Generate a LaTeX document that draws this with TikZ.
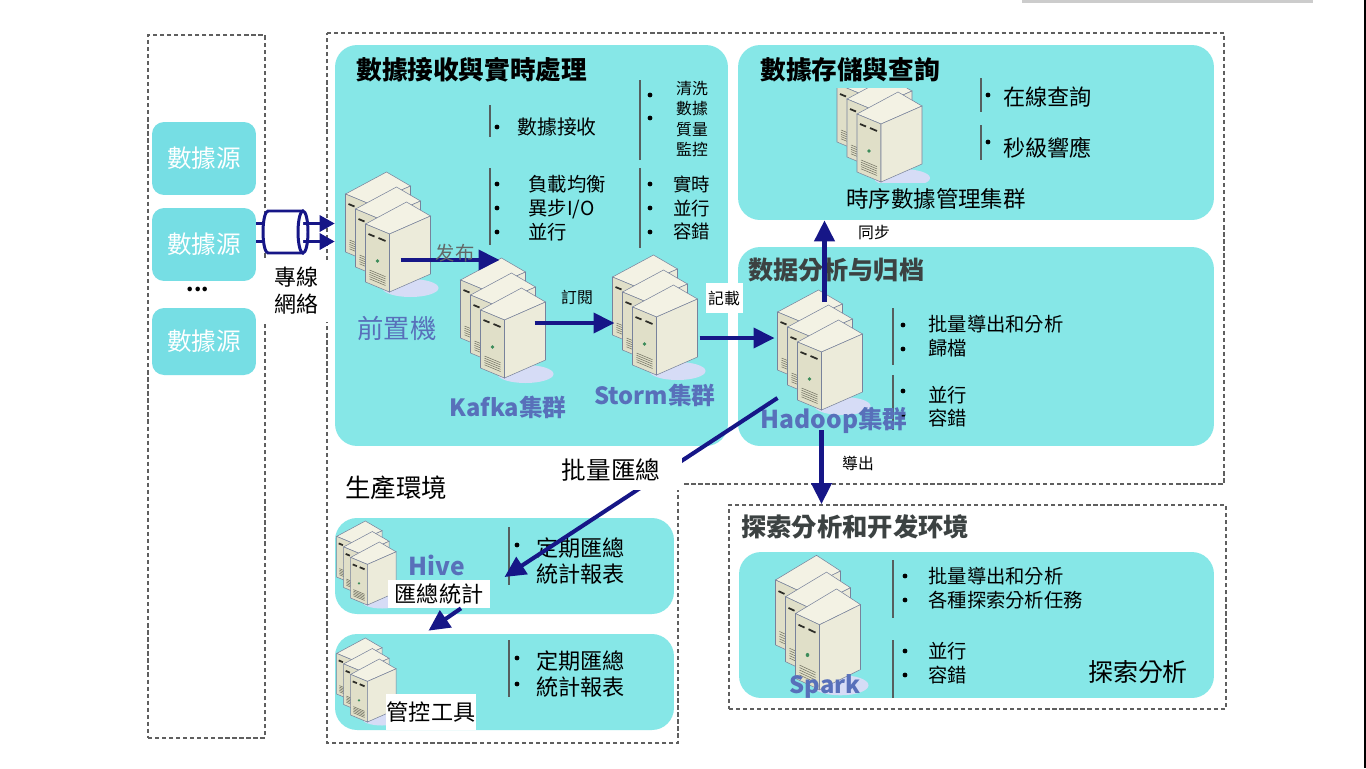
\documentclass[tikz,border=0pt]{standalone}
\usepackage{fontspec}
\setmainfont{Noto Sans CJK TC}
\usetikzlibrary{arrows.meta,calc}

\newcommand\fsz[2]{\fontsize{#1}{#2}\selectfont}

\definecolor{panelcyan}{RGB}{134,231,231}
\definecolor{srccyan}{RGB}{118,222,228}
\definecolor{framegray}{RGB}{95,95,95}
\definecolor{arrownavy}{RGB}{22,22,135}
\definecolor{sepgray}{RGB}{85,95,95}
\definecolor{lblblue}{RGB}{88,112,186}
\definecolor{titlegray}{RGB}{60,66,66}
\definecolor{towerfront}{RGB}{224,223,200}
\definecolor{towerside}{RGB}{236,235,218}
\definecolor{towertop}{RGB}{243,242,228}
\definecolor{towerline}{RGB}{120,130,155}
\definecolor{towerdark}{RGB}{45,45,40}
\definecolor{towergreen}{RGB}{60,140,90}
\definecolor{towergrill}{RGB}{115,115,100}
\definecolor{shadowlav}{RGB}{214,220,246}

\tikzset{
  panel/.style={fill=panelcyan, rounded corners=0.44cm, inner sep=0pt},
  srcbox/.style={fill=srccyan, rounded corners=0.24cm, minimum width=2.08cm, text=white, font=\fsz{14}{17}},
  frame/.style={draw=framegray, line width=1.1pt, dash pattern=on 2.4pt off 1.6pt},
  flow/.style={draw=arrownavy, line width=2.3pt, -{Triangle[length=0.42cm,width=0.4cm]}},
  link/.style={draw=arrownavy, line width=1.8pt, -{Triangle[length=0.3cm,width=0.32cm]}},
  sep/.style={draw=sepgray, line width=0.8pt},
  item/.style={anchor=west, align=left, inner sep=0pt, font=\fsz{11}{13.6}},
  title/.style={anchor=west, inner sep=0pt, font=\bfseries\fsz{14.6}{17}},
  clusterlbl/.style={text=lblblue, inner sep=0pt, font=\bfseries\fsz{13.5}{16}},
  whitelbl/.style={fill=white, inner sep=0pt},
  arrowlbl/.style={inner sep=1pt, font=\fsz{9}{11}},
  % stack of three server towers
  pics/servers/.style={code={
    \fill[shadowlav] (23,56) ellipse [x radius=28, y radius=9];
    \foreach \dx/\dy in {-42/-38,-32/-23,-22/-8}{
      \begin{scope}[shift={(\dx,\dy)}]
        \filldraw[draw=towerline, fill=towertop, line width=0.3pt] (0,0) -- (41,-22) -- (65,-8) -- (24,10) -- cycle;
        \filldraw[draw=towerline, fill=towerfront, line width=0.3pt] (0,0) -- (24,10) -- (24,68) -- (0,58) -- cycle;
        \filldraw[draw=towerline, fill=towerside, line width=0.3pt] (24,10) -- (65,-8) -- (65,50) -- (24,68) -- cycle;
        \draw[line width=1pt, towerdark] (3,10) -- (9,12.5) (13,14) -- (20,17);
        \fill[towergreen] (12,37) circle [radius=1.8];
        \foreach \k in {0,...,4} \draw[towergrill, line width=0.3pt] (4,46+2.2*\k) -- (20,52.7+2.2*\k);
      \end{scope}
    }
    \node[inner sep=0pt, minimum width=1.7cm, minimum height=2.4cm] (-box) at (0,0) {};
  }}
}

\begin{document}
\begin{tikzpicture}[x=0.02cm,y=-0.02cm]
\useasboundingbox (0,0) rectangle (1366,768);
\fill[white] (0,0) rectangle (1366,768);
\fill[gray!40] (1022,0) rectangle (1313,3);
\fill[black] (1363.5,0) rectangle (1366,768);

% dashed frames
\node[frame, minimum width=2.34cm, minimum height=14.06cm] (srcframe) at (206.5,386.5) {};
\draw[frame] (327,33) -- (1224,33) -- (1224,484) -- (678,484) -- (678,743) -- (327,743) -- cycle;
\node[frame, minimum width=9.94cm, minimum height=4.08cm] (expframe) at (977.5,607) {};

% panels
\node[panel, minimum width=7.86cm, minimum height=8.02cm] (recv) at (531.5,245.5) {};
\node[panel, minimum width=9.52cm, minimum height=3.5cm] (store) at (976,132.5) {};
\node[panel, minimum width=9.52cm, minimum height=3.98cm] (archive) at (976,346.5) {};
\node[panel, minimum width=6.78cm, minimum height=1.92cm] (hivepanel) at (504.5,566) {};
\node[panel, minimum width=6.78cm, minimum height=1.92cm] (ctrlpanel) at (504.5,682) {};
\node[panel, minimum width=9.5cm, minimum height=2.92cm] (sparkpanel) at (976.5,625) {};

\node[srcbox, minimum height=1.46cm] (src1) at (204,158.5) {數據源};
\node[srcbox, minimum height=1.46cm] (src2) at (204,244.5) {數據源};
\node[srcbox, minimum height=1.34cm] (src3) at (204,341.5) {數據源};
\node[font=\bfseries\fsz{12}{14}] (dots) at (198,289) {...};

% titles
\node[title] (recvtitle) at (356,70) {數據接收與實時處理};
\node[title] (storetitle) at (760,70) {數據存儲與查詢};
\node[title, text=titlegray, font=\bfseries\fsz{14.3}{17}] (archtitle) at (748,270) {数据分析与归档};
\node[title, text=titlegray, font=\bfseries\fsz{14.4}{17}] (exptitle) at (741,527) {探索分析和开发环境};
\node[anchor=west, inner sep=0pt, font=\fsz{14.5}{17}] (prodtitle) at (345,488) {生產環境};

% lists
\foreach \x/\ya/\yb in {490/105/137, 490/168/245, 640/80/160, 640/168/248, 981/78/112, 981/125/160,
    893/308/365, 893/375/430, 893/560/618, 893/640/698, 509/527/585, 509/640/697}
  \draw[sep] (\x,\ya) -- (\x,\yb);
\foreach \x/\y in {497/127, 497/184, 497/208, 497/232, 650/95, 650/118, 650/184, 650/208, 650/232,
    988/95, 988/142, 903/325, 903/349, 903/391, 903/415, 905/576, 905/600, 905/651, 905/675,
    517/545, 517/571, 517/658, 517/684}
  \fill (\x,\y) circle [radius=2.4];
\node[item, font=\fsz{11.3}{13.6}] (recvitem) at (517,127) {數據接收};
\node[item] (lbitem) at (528,208) {負載均衡\\異步I/O\\並行};
\node[item, align=center, anchor=center, font=\fsz{9}{11.7}] (cleanitem) at (692,119) {清洗\\數據\\質量\\監控};
\node[item, font=\fsz{10.5}{13.6}] (rtitem) at (673,208) {實時\\並行\\容錯};
\node[item, font=\fsz{12.6}{14}] (queryitem) at (1003,97) {在線查詢};
\node[item, font=\fsz{12.6}{14}] (respitem) at (1003,148) {秒級響應};
\node[item] (batchitem) at (928,336) {批量導出和分析\\歸檔};
\node[item, font=\fsz{11}{13}] (paritem) at (928,407) {並行\\容錯};
\node[item] (expitem) at (928,588) {批量導出和分析\\各種探索分析任務};
\node[item] (exppar) at (928,663) {並行\\容錯};
\node[font=\fsz{14.2}{17}] (explbl) at (1138,672) {探索分析};
\node[item, font=\fsz{12.6}{15.3}] (hiveitem) at (536,561) {定期匯總\\統計報表};
\node[item, font=\fsz{12.6}{15.3}] (ctrlitem) at (536,674) {定期匯總\\統計報表};

% servers
\pic (frontend) at (387.5,232) {servers};
\pic (kafka) at (502.5,318) {servers};
\pic (storm) at (654.5,315) {servers};
\pic (hadoop) at (819.5,350) {servers};
\begin{scope}
  \clip (830,88) rectangle (930,182);
  \pic (tsdb) at (879,122) {servers};
\end{scope}
\pic[yscale=1.12] (sparksrv) at (817.5,622.5) {servers};
\pic[scale=0.7] (hivesrv) at (366,563) {servers};
\pic[scale=0.7] (ctrlsrv) at (366,680) {servers};

\node[text=lblblue, inner sep=0pt, font=\fsz{15}{17}] (frontlbl) at (397,328) {前置機};
\node[clusterlbl] (kafkalbl) at (508,407) {Kafka集群};
\node[clusterlbl] (stormlbl) at (655,395) {Storm集群};
\node[clusterlbl, font=\bfseries\fsz{14}{16}] (hadooplbl) at (834,420) {Hadoop集群};
\node[clusterlbl, font=\bfseries\fsz{14}{16}] (hivelbl) at (437,565) {Hive};
\node[clusterlbl] (sparklbl) at (825,686) {Spark};
\node[inner sep=0pt, font=\fsz{12.8}{15}] (tslbl) at (936,199) {時序數據管理集群};
\node[whitelbl, font=\fsz{12.6}{15}, minimum width=2.04cm, minimum height=0.56cm] (sumlbl) at (439,594) {匯總統計};
\node[whitelbl, font=\fsz{12.6}{15}, minimum width=1.82cm, minimum height=0.72cm] (toollbl) at (431,712) {管控工具};

% dedicated line
\draw[link] ($(src2.east)+(0,-21)$) -- ($(recv.west)+(0,-22)$);
\draw[link] ($(src2.east)+(0,-3)$) -- ($(recv.west)+(0,-4)$);
\filldraw[fill=white, draw=arrownavy, line width=1.7pt] (303,211) -- (268,211)
  arc[start angle=270, end angle=90, x radius=5, y radius=21] -- (303,253);
\draw[arrownavy, line width=1.7pt] (303,232) ellipse [x radius=5, y radius=21];
\node[whitelbl, font=\fsz{12.5}{15.5}, minimum width=1.36cm, minimum height=1.24cm, align=center] (linelbl) at (296,291) {專線\\網絡};

% flows
\draw[flow] ($(frontend-box.center)+(13,28)$) -- ($(kafka-box.center)+(-3,-58)$);
\draw[flow] ($(kafka-box.center)+(32,5)$) -- ($(storm-box.center)+(-40,8)$);
\draw[flow] ($(storm-box.center)+(45,23)$) -- ($(hadoop-box.center)+(-45,-12)$);
\coordinate (syncfrom) at ($(hadoop-box.center)+(5,-48)$);
\draw[flow] (syncfrom) -- (syncfrom |- store.south);
\coordinate (expfrom) at ($(hadoop-box.center)+(2,80)$);
\draw[flow] (expfrom) -- (expfrom |- expframe.north);
\draw[flow] ($(hadoop-box.center)+(-42,48)$) -- ($(hivepanel.center)+(0,11)$);
\draw[flow] ($(sumlbl.south)+(22,0)$) -- ($(ctrlpanel.north)+(-76,-3)$);

\node[text=titlegray!80, inner sep=0pt, font=\fsz{11}{13}] (publbl) at (455,253) {发布};
\node[arrowlbl] (sublbl) at (577,297) {訂閱};
\node[arrowlbl, whitelbl, minimum width=0.74cm, minimum height=0.6cm] (loglbl) at (724,298) {記載};
\node[arrowlbl, whitelbl, minimum width=1.2cm, minimum height=0.5cm] (synclbl) at (874,233) {同步};
\node[arrowlbl] (outlbl) at (858,463) {導出};
\node[whitelbl, minimum width=2.84cm, minimum height=0.8cm, font=\fsz{14}{16}] (batchlbl) at (611,470) {批量匯總};
\end{tikzpicture}
\end{document}
